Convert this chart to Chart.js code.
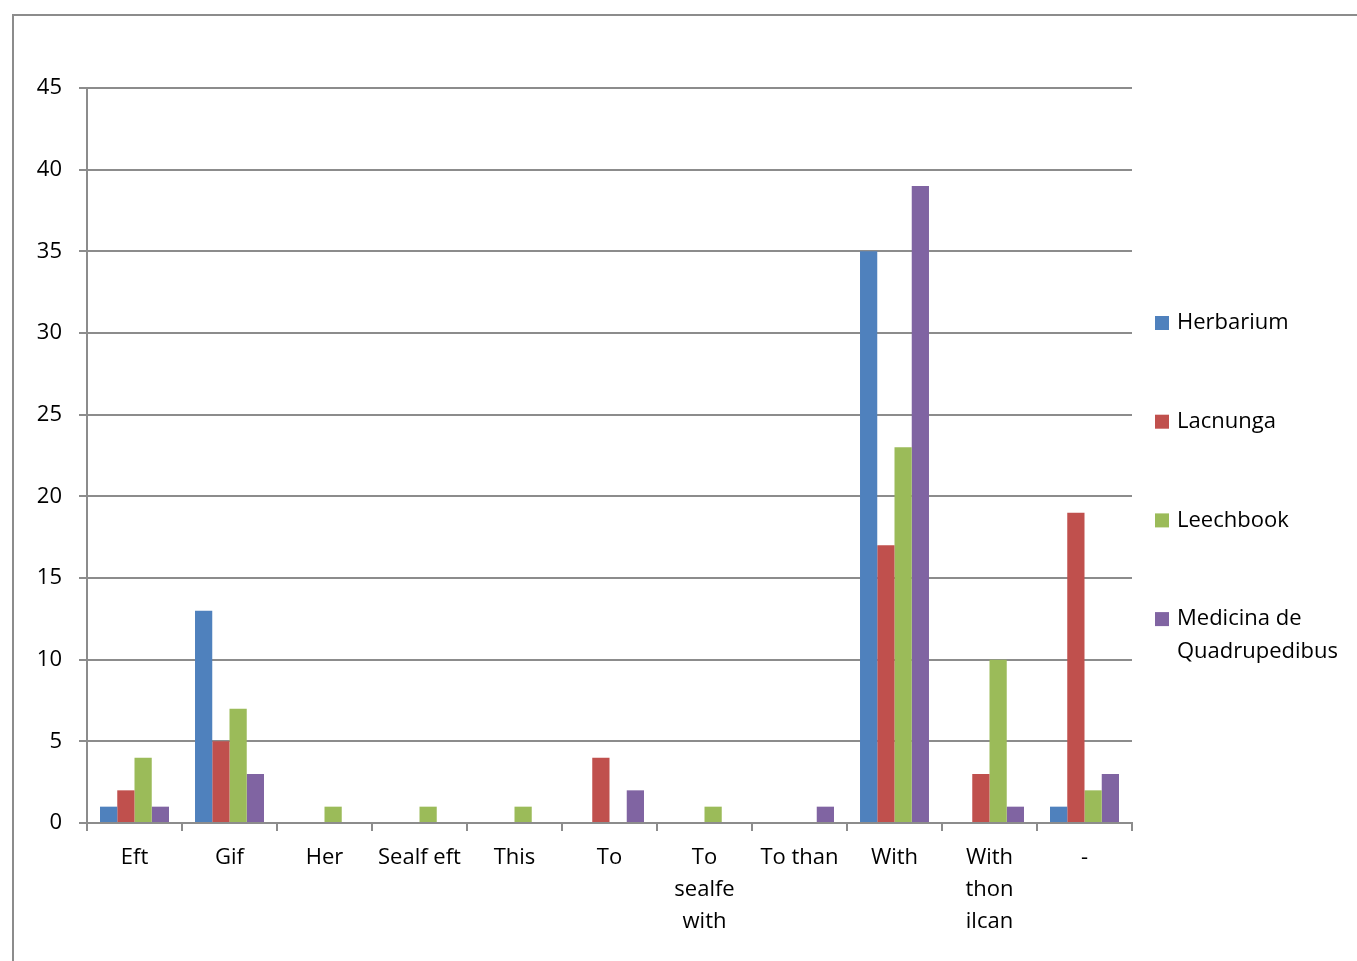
<!DOCTYPE html>
<html>
<head>
<meta charset="utf-8">
<script src="https://cdn.jsdelivr.net/npm/chart.js@4"></script>
<style>
  html, body { margin: 0; padding: 0; background: #fff; overflow: hidden; }
  #frame {
    position: absolute; left: 12px; top: 14px;
    width: 1343px; height: 945px;
    border: 2px solid #8c8c8c; border-right: none; border-bottom: none;
  }
</style>
</head>
<body>
<div id="frame"><canvas id="usageChart" width="1343" height="945"></canvas></div>
<script>
const ctx = document.getElementById('usageChart');

// Categories (multi-line labels as arrays)
var phrases = ['Eft', 'Gif', 'Her', 'Sealf eft', 'This', 'To', ['To', 'sealfe', 'with'],
    'To than', 'With', ['With', 'thon', 'ilcan'], '-'];
var herbarium = [1, 13, 0, 0, 0, 0, 0, 0, 35, 0, 1];
var lacnunga  = [2, 5, 0, 0, 0, 4, 0, 0, 17, 3, 19];
var leechbook = [4, 7, 1, 1, 1, 0, 1, 0, 23, 10, 2];
var medicina  = [1, 3, 0, 0, 0, 2, 0, 1, 39, 1, 3];
var legendNames = [['Herbarium'], ['Lacnunga'], ['Leechbook'], ['Medicina de', 'Quadrupedibus']];

var FONT = '"Open Sans", "Liberation Sans", sans-serif';
var GRID = '#8c8c8c';

// Legend drawn by hand so the last entry can wrap onto two lines
const sideLegend = {
    id: 'sideLegend',
    afterDraw(chart) {
        const c = chart.ctx;
        const area = chart.chartArea;
        c.save();
        c.font = '22px ' + FONT;
        c.textBaseline = 'middle';
        chart.data.datasets.forEach(function (ds, i) {
            const y = area.top + 235 + i * 98.7;
            const x = area.right + 23;
            c.fillStyle = ds.backgroundColor;
            c.fillRect(x, y - 7, 14, 14);
            c.fillStyle = '#000';
            legendNames[i].forEach(function (line, j) {
                c.fillText(line, x + 22, y + j * 33);
            });
        });
        c.restore();
    }
};

function series(label, data, color) {
    return {
        label: label,
        data: data,
        backgroundColor: color,
        borderWidth: 0,
        barPercentage: 1,
        categoryPercentage: 0.726
    };
}

new Chart(ctx, {
    type: 'bar',
    data: {
        labels: phrases,
        datasets: [
            series('Herbarium', herbarium, '#4F81BD'),
            series('Lacnunga', lacnunga, '#C0504D'),
            series('Leechbook', leechbook, '#9BBB59'),
            series('Medicina de Quadrupedibus', medicina, '#8064A2')
        ]
    },
    options: {
        responsive: false,
        animation: false,
        layout: { padding: { left: 0, top: 72, right: 225, bottom: 0 } },
        plugins: {
            legend: { display: false },
            tooltip: { enabled: false }
        },
        scales: {
            x: {
                afterFit: function (s) { s.height = 138; },
                grid: {
                    offset: true,
                    drawOnChartArea: false,
                    drawTicks: true,
                    tickLength: 8,
                    color: GRID,
                    lineWidth: 2
                },
                border: { color: GRID, width: 2 },
                ticks: {
                    color: '#000',
                    font: { family: FONT, size: 22, lineHeight: 1.455 },
                    padding: 11,
                    maxRotation: 0,
                    autoSkip: false
                }
            },
            y: {
                min: 0,
                max: 45,
                afterFit: function (s) { s.width = 73; },
                grid: {
                    color: GRID,
                    lineWidth: 2,
                    tickLength: 8
                },
                border: { color: GRID, width: 2 },
                ticks: {
                    stepSize: 5,
                    color: '#000',
                    font: { family: FONT, size: 22 },
                    padding: 17
                }
            }
        }
    },
    plugins: [sideLegend]
});
</script>
</body>
</html>
